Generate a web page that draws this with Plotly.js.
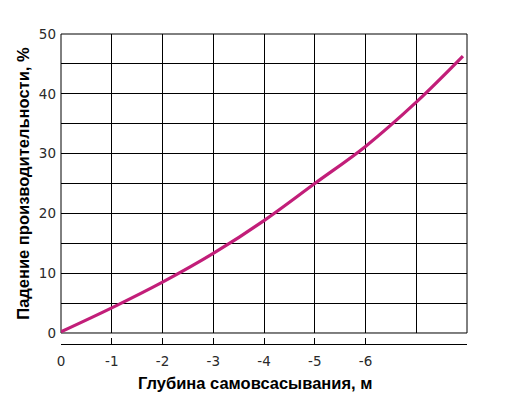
<!DOCTYPE html>
<html><head><meta charset="utf-8">
<script src="https://cdn.plot.ly/plotly-3.0.1.min.js"></script>
<style>html,body{margin:0;padding:0;background:#fff}</style>
</head><body><div id="chart" style="width:510px;height:402px"></div>
<script>
const depth = [0, -1, -2, -3, -4, -5, -6, -7, -7.92];
const drop = [0.2, 4.2, 8.5, 13.3, 18.8, 25.0, 31.2, 38.6, 46.3];
const xTickVals = [0, -1, -2, -3, -4, -5, -6];
const xTickText = ['0', '-1', '-2', '-3', '-4', '-5', '-6'];
const yTickVals = [0, 10, 20, 30, 40, 50];
const yTickText = ['0', '10', '20', '30', '40', '50'];
const xTitle = 'Глубина самовсасывания, м';
const yTitle = 'Падение производительности, %';

const trace = {
  x: depth, y: drop, type: 'scatter', mode: 'lines',
  line: {color: '#c21e79', width: 3.2, shape: 'spline', smoothing: 1},
  hoverinfo: 'skip'
};
const titleFont = {family: 'Liberation Sans, Arial, sans-serif', size: 16.5, color: '#000', weight: 'bold'};
const tickFont = {family: 'DejaVu Sans, sans-serif', size: 13.5, color: '#2a2a2a'};
const layout = {
  width: 510, height: 402,
  margin: {l: 61, r: 43, t: 34, b: 58},
  paper_bgcolor: '#fff', plot_bgcolor: '#fff',
  showlegend: false,
  font: {family: 'DejaVu Sans, sans-serif', color: '#222', size: 12},
  xaxis: {
    range: [0, -8], anchor: 'free', position: 0,
    tickmode: 'array', tickvals: xTickVals, ticktext: xTickText,
    ticks: 'inside', ticklen: 6, tickwidth: 1, tickcolor: '#000',
    showline: true, linecolor: '#000', linewidth: 1,
    showgrid: false,
    minor: {dtick: 1, tick0: 0, showgrid: true, gridcolor: '#000', gridwidth: 1, ticks: ''},
    zeroline: false,
    tickfont: tickFont,
    ticklabelstandoff: 5
  },
  yaxis: {
    range: [0, 50], domain: [0.0355, 1],
    tickmode: 'array', tickvals: yTickVals, ticktext: yTickText,
    ticks: '', showline: false,
    showgrid: false,
    minor: {dtick: 5, tick0: 0, showgrid: true, gridcolor: '#000', gridwidth: 1, ticks: ''},
    zeroline: false,
    tickfont: tickFont,
    ticklabelstandoff: 4,
    title: {text: yTitle, standoff: 5, font: titleFont}
  },
  shapes: [{
    type: 'rect', xref: 'x domain', yref: 'y domain',
    x0: 0, x1: 1, y0: 0, y1: 1,
    line: {color: '#000', width: 1}, layer: 'below'
  }],
  annotations: [{
    text: xTitle, xref: 'paper', yref: 'paper',
    x: 0.478, y: -0.126, xanchor: 'center', yanchor: 'middle',
    showarrow: false, font: titleFont
  }]
};
Plotly.newPlot('chart', [trace], layout, {staticPlot: true, displayModeBar: false});
</script></body></html>
